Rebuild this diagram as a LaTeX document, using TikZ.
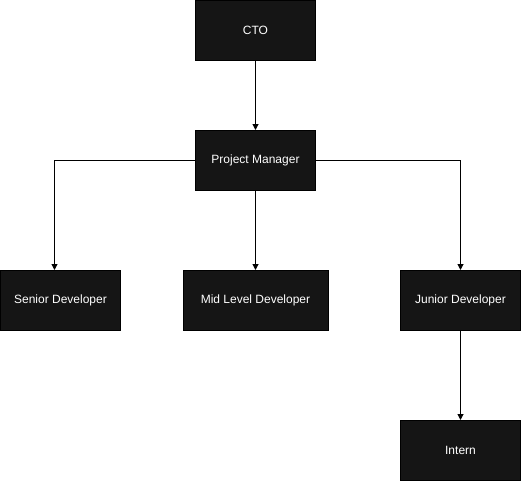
\documentclass[tikz,border=0pt]{standalone}
\usepackage{fontspec}
\setmainfont{Liberation Sans}
\usetikzlibrary{arrows.meta}
\definecolor{boxfill}{HTML}{151515}
\tikzset{
  box/.style={draw=black, fill=boxfill, line width=0.75pt, text=white,
    minimum height=45pt, inner sep=0pt, font=\fontsize{9}{11}\selectfont},
  conn/.style={draw=black, line width=0.75pt, -{Triangle[length=4.5pt,width=4.5pt]}}
}
\begin{document}
\begin{tikzpicture}[x=0.75pt,y=-0.75pt]
\useasboundingbox (0,0) rectangle (521,482);
\node[box, minimum width=90pt] (cto) at (255.5,30) {CTO};
\node[box, minimum width=90pt] (pm) at (255.5,160.5) {Project Manager};
\node[box, minimum width=90pt] (sen) at (60.5,300.5) {Senior Developer};
\node[box, minimum width=108.75pt] (mid) at (255.5,300.5) {Mid Level Developer};
\node[box, minimum width=90pt] (jun) at (460.5,300.5) {Junior Developer};
\node[box, minimum width=90pt] (int) at (460.5,450.5) {Intern};
\coordinate (senin) at (54.5,270);
\draw[conn] (cto.south) -- (pm.north);
\draw[conn] (pm.west) -| (senin);
\draw[conn] (pm.south) -- (mid.north);
\draw[conn] (pm.east) -| (jun.north);
\draw[conn] (jun.south) -- (int.north);
\end{tikzpicture}
\end{document}
